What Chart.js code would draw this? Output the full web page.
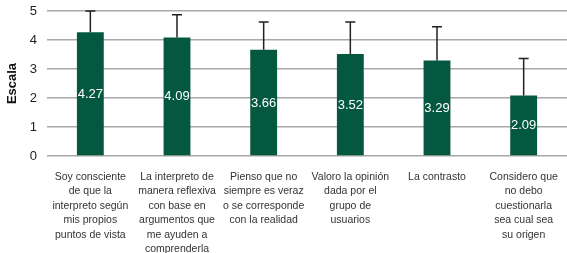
<!DOCTYPE html>
<html lang="es">
<head>
  <meta charset="UTF-8" />
  <title>Escala</title>
  <script src="https://cdn.jsdelivr.net/npm/chart.js"></script>
  <style>
    body { margin: 0; background: #fff; overflow: hidden; }
    #wrap { width: 567px; height: 253px; overflow: hidden; }
    #chart { display: block; margin-top: -19px; }
  </style>
</head>
<body>
  <div id="wrap"><canvas id="chart" width="567" height="272"></canvas></div>
  <script>
    const categories = [
      ["Soy consciente", "de que la", "interpreto según", "mis propios", "puntos de vista"],
      ["La interpreto de", "manera reflexiva", "con base en", "argumentos que", "me ayuden a", "comprenderla"],
      ["Pienso que no", "siempre es veraz", "o se corresponde", "con la realidad"],
      ["Valoro la opinión", "dada por el", "grupo de", "usuarios"],
      ["La contrasto"],
      ["Considero que", "no debo", "cuestionarla", "sea cual sea", "su origen"]
    ];
    const means = [4.27, 4.09, 3.66, 3.52, 3.29, 2.09];
    const sds = [0.73, 0.78, 0.96, 1.10, 1.17, 1.27];
    const yTicks = [0, 1, 2, 3, 4, 5];

    const fontFam = "'Liberation Sans', Arial, sans-serif";

    // error bars (upper only) + value labels
    const extras = {
      id: 'extras',
      afterDatasetsDraw(chart) {
        const ctx = chart.ctx;
        const y = chart.scales.y;
        const meta = chart.getDatasetMeta(0);
        ctx.save();
        meta.data.forEach((bar, i) => {
          const top = y.getPixelForValue(means[i]);
          const end = y.getPixelForValue(means[i] + sds[i]);
          ctx.strokeStyle = '#222';
          ctx.lineWidth = 1.5;
          ctx.beginPath();
          ctx.moveTo(bar.x, top);
          ctx.lineTo(bar.x, end);
          ctx.moveTo(bar.x - 5, end);
          ctx.lineTo(bar.x + 5, end);
          ctx.stroke();
          ctx.fillStyle = '#fff';
          ctx.font = "13px " + fontFam;
          ctx.textAlign = 'center';
          ctx.textBaseline = 'middle';
          ctx.fillText(means[i].toFixed(2), bar.x, y.getPixelForValue(means[i] / 2));
        });
        ctx.restore();
      }
    };

    new Chart(document.getElementById('chart'), {
      type: 'bar',
      data: {
        labels: categories,
        datasets: [{
          data: means,
          backgroundColor: '#04583f',
          barPercentage: 0.31,
          categoryPercentage: 1
        }]
      },
      options: {
        responsive: false,
        animation: false,
        layout: { padding: { top: 30, left: 0, right: 0, bottom: 0 } },
        plugins: { legend: { display: false }, tooltip: { enabled: false } },
        scales: {
          x: {
            grid: { display: false },
            border: { display: false },
            ticks: {
              color: '#333',
              font: { family: fontFam, size: 10.5, lineHeight: 1.37 },
              padding: 6,
              maxRotation: 0,
              autoSkip: false
            },
            afterFit(s) { s.height = 97; }
          },
          y: {
            min: 0, max: 5,
            afterBuildTicks(s) { s.ticks = yTicks.map(v => ({ value: v })); },
            grid: { color: '#a8a8a8', lineWidth: 1.5, drawTicks: false },
            border: { display: false },
            ticks: { color: '#222', font: { family: fontFam, size: 13 }, padding: 10 },
            title: {
              display: true, text: 'Escala', color: '#111',
              font: { family: fontFam, size: 13, weight: 'bold' },
              padding: { top: 5, bottom: 0 }
            },
            afterFit(s) { s.width = 47; }
          }
        }
      },
      plugins: [extras]
    });
  </script>
</body>
</html>
